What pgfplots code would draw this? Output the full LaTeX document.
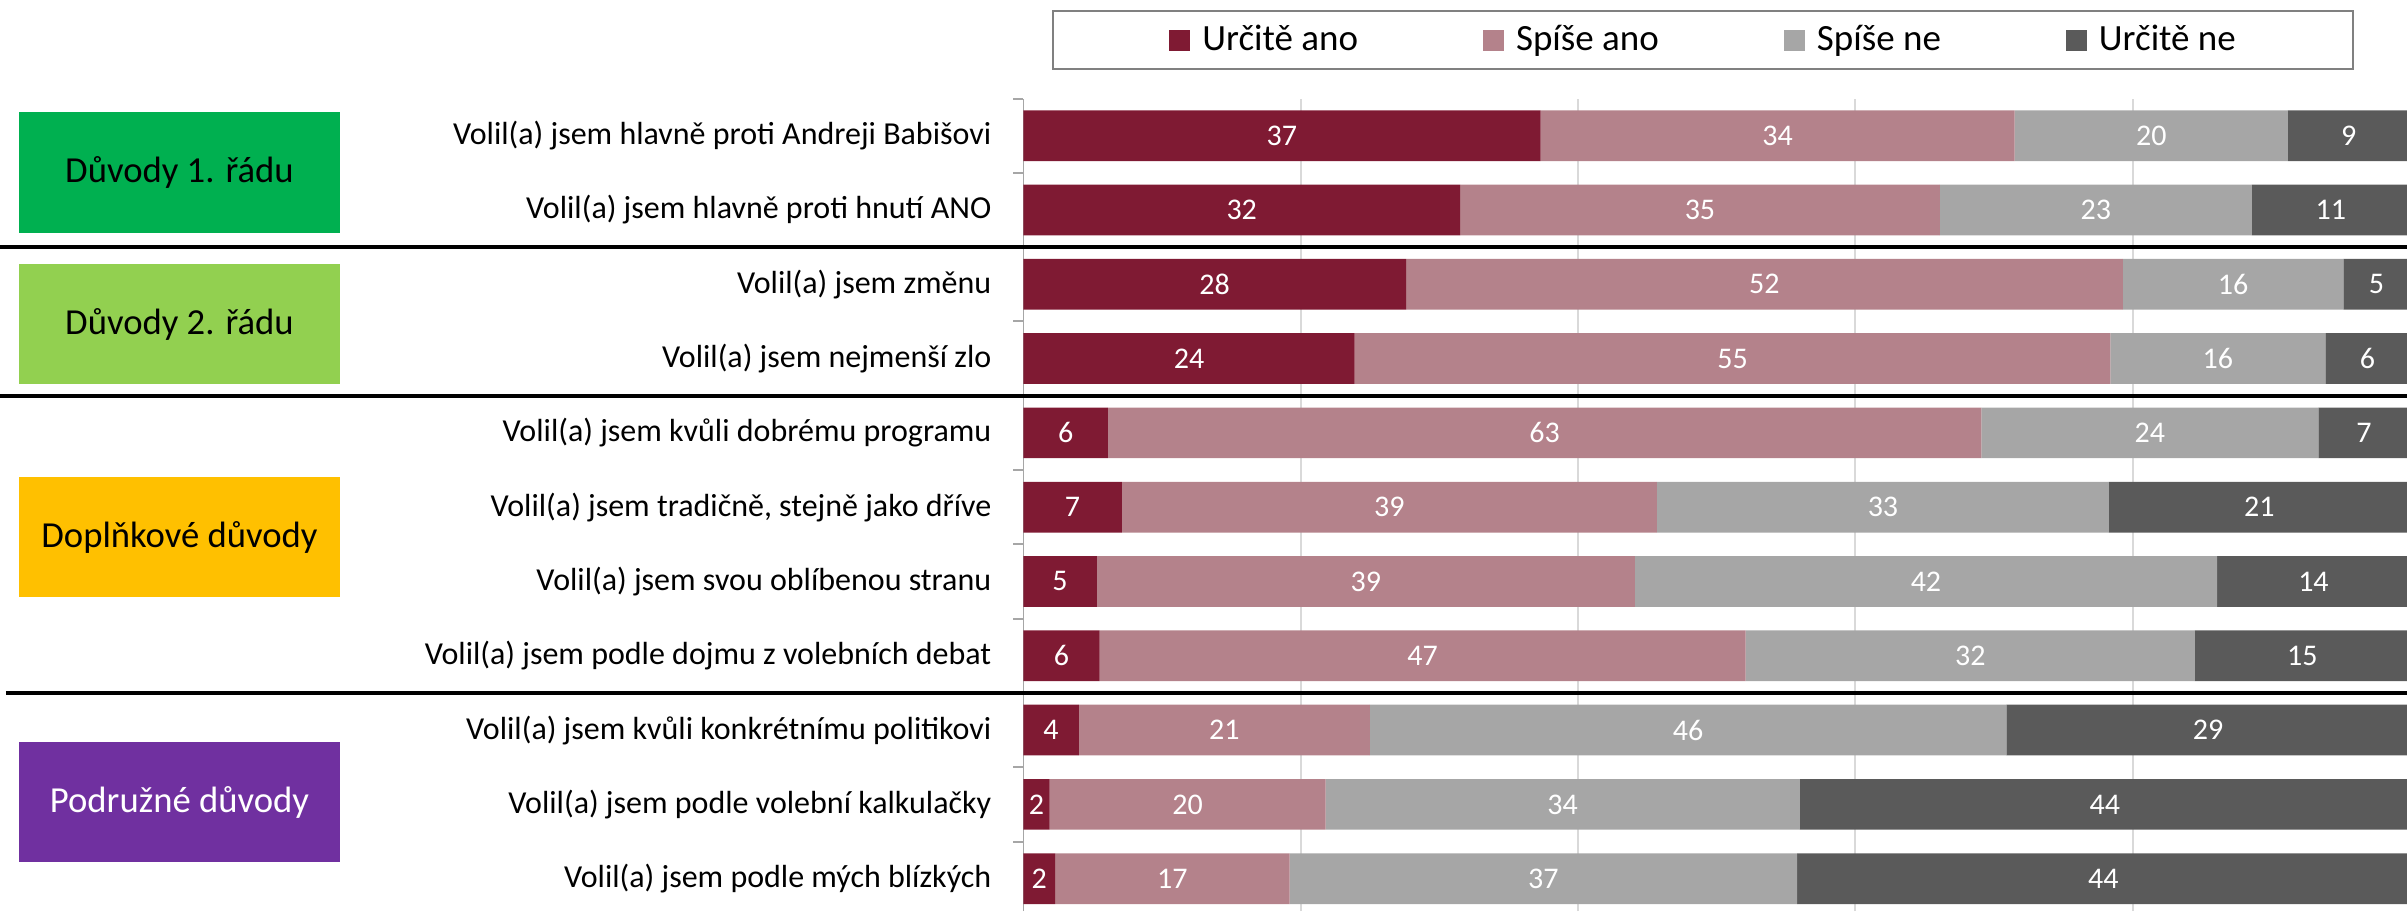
\documentclass[border=0pt]{standalone}
\usepackage{fontspec}
\setmainfont{Carlito}
\usepackage{pgfplots}
\pgfplotsset{compat=1.18}

\definecolor{urcAno}{HTML}{7F1A33}
\definecolor{spiAno}{HTML}{B4828B}
\definecolor{spiNe}{HTML}{A6A6A6}
\definecolor{urcNe}{HTML}{5A5A5A}
\definecolor{gridc}{HTML}{D9D9D9}
\definecolor{axisc}{HTML}{A6A6A6}
\definecolor{grpA}{HTML}{00B050}
\definecolor{grpB}{HTML}{92D050}
\definecolor{grpC}{HTML}{FFC000}
\definecolor{grpD}{HTML}{7030A0}

\begin{document}
\begin{tikzpicture}
\begin{axis}[
  at={(307bp,0bp)}, anchor=south west,
  x=4.1595bp, y=22.29bp,
  xmin=0, xmax=99.8, ymin=-11.435, ymax=-0.5,
  xbar stacked, bar width=0.682,
  clip=false,
  axis y line*=left, axis x line*=bottom,
  x axis line style={draw=none},
  y axis line style={draw=axisc, line width=0.5bp},
  xtick={20,40,60,80}, xticklabels={},
  xmajorgrids, grid style={draw=gridc, line width=0.6bp},
  ytick={-1,-2,-3,-4,-5,-6,-7,-8,-9,-10,-11},
  yticklabels={
    {Volil(a) jsem hlavně proti Andreji Babišovi},
    {Volil(a) jsem hlavně proti hnutí ANO},
    {Volil(a) jsem změnu},
    {Volil(a) jsem nejmenší zlo},
    {Volil(a) jsem kvůli dobrému programu},
    {Volil(a) jsem tradičně, stejně jako dříve},
    {Volil(a) jsem svou oblíbenou stranu},
    {Volil(a) jsem podle dojmu z volebních debat},
    {Volil(a) jsem kvůli konkrétnímu politikovi},
    {Volil(a) jsem podle volební kalkulačky},
    {Volil(a) jsem podle mých blízkých}},
  major tick length=0bp,
  minor ytick={-0.5,-1.5,-2.5,-3.5,-4.5,-5.5,-6.5,-7.5,-8.5,-9.5,-10.5},
  minor tick length=3bp, tick align=outside,
  minor y tick style={draw=axisc, line width=0.6bp},
  yticklabel style={font=\fontsize{9.6bp}{11bp}\selectfont, anchor=east, inner sep=0pt, xshift=-9.4bp},
  legend columns=4,
  legend style={at={(0.4909,1.109)}, anchor=north, draw=gray, line width=0.6bp,
    font=\fontsize{11.1bp}{13bp}\selectfont, inner xsep=35bp, inner ysep=4.2bp,
    nodes={inner sep=0pt},
    /tikz/every even column/.append style={column sep=37.5bp},
    /tikz/every odd column/.append style={column sep=3.6bp}},
  legend image code/.code={\fill[#1] (0bp,-3.15bp) rectangle (6.3bp,3.15bp);},
  point meta=explicit symbolic,
  nodes near coords={\pgfplotspointmeta},
  every node near coord/.append style={anchor=center,
    text=white, font=\fontsize{9bp}{11bp}\selectfont},
]
\addplot[fill=urcAno, draw=none] coordinates {
  (37.3,-1) [37] (31.5,-2) [32] (27.6,-3) [28] (23.9,-4) [24]
  (6.1,-5) [6] (7.1,-6) [7] (5.3,-7) [5] (5.5,-8) [6]
  (4.0,-9) [4] (1.9,-10) [2] (2.3,-11) [2]};
\addlegendentry{Určitě ano}
\addplot[fill=spiAno, draw=none] coordinates {
  (34.2,-1) [34] (34.6,-2) [35] (51.7,-3) [52] (54.5,-4) [55]
  (63.0,-5) [63] (38.6,-6) [39] (38.8,-7) [39] (46.6,-8) [47]
  (21.0,-9) [21] (19.9,-10) [20] (16.9,-11) [17]};
\addlegendentry{Spíše ano}
\addplot[fill=spiNe, draw=none] coordinates {
  (19.7,-1) [20] (22.5,-2) [23] (15.9,-3) [16] (15.5,-4) [16]
  (24.3,-5) [24] (32.6,-6) [33] (42.0,-7) [42] (32.4,-8) [32]
  (45.9,-9) [46] (34.2,-10) [34] (36.6,-11) [37]};
\addlegendentry{Spíše ne}
\addplot[fill=urcNe, draw=none] coordinates {
  (8.8,-1) [9] (11.4,-2) [11] (4.8,-3) [5] (6.1,-4) [6]
  (6.6,-5) [7] (21.7,-6) [21] (13.9,-7) [14] (15.5,-8) [15]
  (29.1,-9) [29] (44.0,-10) [44] (44.2,-11) [44]};
\addlegendentry{Určitě ne}
\end{axis}

% group boxes and separators, in image pixels from the top left
\begin{scope}[yshift=273.3bp, x=0.3bp, y=-0.3bp]
  \draw[line width=1.2bp] (0,247) -- (2407,247);
  \draw[line width=1.2bp] (0,396) -- (2407,396);
  \draw[line width=1.2bp] (6,693) -- (2407,693);
  \fill[grpA] (19,112) rectangle (340,233);
  \fill[grpB] (19,264) rectangle (340,384);
  \fill[grpC] (19,477) rectangle (340,597);
  \fill[grpD] (19,742) rectangle (340,862);
  \begin{scope}[every node/.style={font=\fontsize{11bp}{13bp}\selectfont, inner sep=0pt}]
    \node at (179.5,172.5) {Důvody 1. řádu};
    \node at (179.5,324) {Důvody 2. řádu};
    \node at (179.5,537) {Doplňkové důvody};
    \node[text=white] at (179.5,802) {Podružné důvody};
  \end{scope}
\end{scope}
\pgfresetboundingbox
\path[use as bounding box] (0,0) rectangle (722.1bp,273.3bp);
\end{tikzpicture}
\end{document}
